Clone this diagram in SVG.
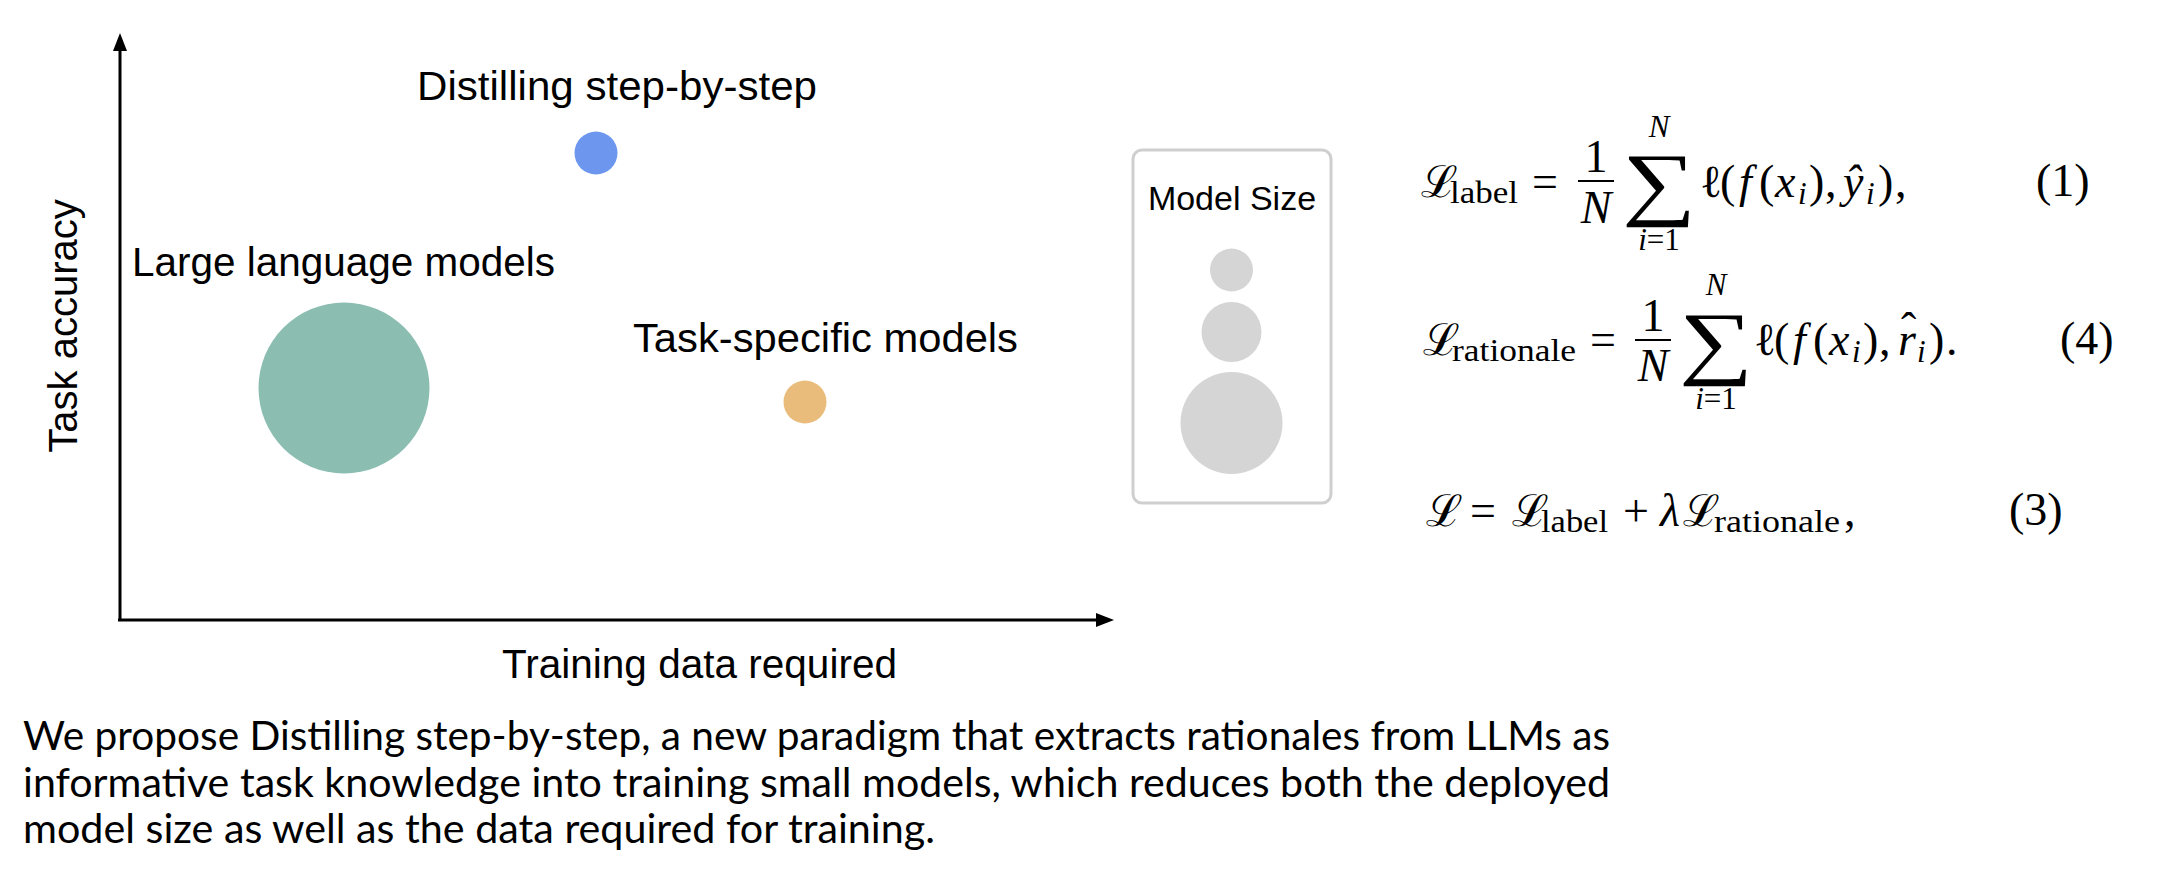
<svg xmlns="http://www.w3.org/2000/svg" width="2162" height="876" viewBox="0 0 2162 876">
<style>
.lbl{font-family:"Liberation Sans",Arial,Helvetica,sans-serif;font-size:40px;fill:#000}
.m{font-family:"Liberation Serif","Times New Roman",serif;font-size:46px;fill:#000}
.mi{font-style:italic}
.sub{font-size:31px}
.cal{font-family:"DejaVu Serif","Liberation Serif",serif;font-size:44px;fill:#000}
.big{font-family:"Liberation Serif","Times New Roman",serif;font-size:80px;fill:#000}
.cap{font-family:Lato,"Open Sans","Liberation Sans",sans-serif;font-size:40px;fill:#000}
.mid{text-anchor:middle}
.axis{stroke:#000;stroke-width:3;fill:none}
</style>
<defs>
<marker id="arr" viewBox="0 0 18 14" markerUnits="userSpaceOnUse" markerWidth="18" markerHeight="14" refX="8" refY="7" orient="auto">
<path d="M0,0 L18,7 L0,14 z" fill="#000"/>
</marker>
</defs>
<rect width="2162" height="876" fill="#fff"/>
<g id="connectors">
<line class="axis" x1="120" y1="621" x2="120" y2="43" marker-end="url(#arr)"/>
<line class="axis" x1="118" y1="620" x2="1104" y2="620" marker-end="url(#arr)"/>
</g>
<g id="axis-labels">
<text class="lbl" transform="translate(77,326) rotate(-90)" text-anchor="middle">Task accuracy</text>
<text class="lbl" x="502" y="678" textLength="395" lengthAdjust="spacingAndGlyphs">Training data required</text>
</g>
<g id="node-distill">
<text class="lbl" x="417" y="100" textLength="400" lengthAdjust="spacingAndGlyphs">Distilling step-by-step</text>
<circle cx="596" cy="153" r="21.5" fill="#6D97EE"/>
</g>
<g id="node-llm">
<text class="lbl" x="132" y="276" textLength="423" lengthAdjust="spacingAndGlyphs">Large language models</text>
<circle cx="344" cy="388" r="85.5" fill="#8BBDB1"/>
</g>
<g id="node-task">
<text class="lbl" x="633" y="352" textLength="385" lengthAdjust="spacingAndGlyphs">Task-specific models</text>
<circle cx="805" cy="402" r="21.5" fill="#E9BC7B"/>
</g>
<g id="node-legend">
<rect x="1133" y="150" width="198" height="353" rx="9" fill="#fff" stroke="#CFCFCF" stroke-width="3"/>
<text class="lbl mid" x="1232" y="210" style="font-size:34px">Model Size</text>
<circle cx="1231.5" cy="270" r="21.5" fill="#D5D5D5"/>
<circle cx="1231.5" cy="332" r="30" fill="#D5D5D5"/>
<circle cx="1231.5" cy="423" r="51" fill="#D5D5D5"/>
</g>
<g id="eq1">
<text class="cal" x="1421" y="197">ℒ</text>
<text class="m sub" x="1450" y="203" textLength="68" lengthAdjust="spacingAndGlyphs">label</text>
<text class="m mid" x="1545" y="197">=</text>
<text class="m mid" x="1596" y="172">1</text>
<line x1="1578" y1="181" x2="1614" y2="181" stroke="#000" stroke-width="1.8"/>
<text class="m mi mid" x="1596" y="223">N</text>
<text class="big mid" transform="translate(1659,210) scale(1.3,1.02)">∑</text>
<text class="m mi sub mid" x="1659" y="137">N</text>
<text class="m sub mid" x="1659" y="250"><tspan class="mi">i</tspan>=1</text>
<text class="m" y="197"><tspan x="1700">ℓ</tspan><tspan x="1720">(</tspan><tspan x="1739" class="mi">f</tspan><tspan x="1759">(</tspan><tspan x="1775" class="mi">x</tspan><tspan x="1798" y="204" class="mi sub">i</tspan><tspan x="1809" y="197">)</tspan><tspan x="1825">,</tspan><tspan x="1843" class="mi">ŷ</tspan><tspan x="1866" y="204" class="mi sub">i</tspan><tspan x="1878" y="197">)</tspan><tspan x="1895">,</tspan></text>
<text class="m" x="2036" y="196">(1)</text>
</g>
<g id="eq4">
<text class="cal" x="1423" y="355">ℒ</text>
<text class="m sub" x="1452" y="361" textLength="124" lengthAdjust="spacingAndGlyphs">rationale</text>
<text class="m mid" x="1603" y="355">=</text>
<text class="m mid" x="1653" y="331">1</text>
<line x1="1635" y1="340" x2="1671" y2="340" stroke="#000" stroke-width="1.8"/>
<text class="m mi mid" x="1653" y="381">N</text>
<text class="big mid" transform="translate(1716,369) scale(1.3,1.02)">∑</text>
<text class="m mi sub mid" x="1716" y="295">N</text>
<text class="m sub mid" x="1716" y="409"><tspan class="mi">i</tspan>=1</text>
<text class="m" y="355"><tspan x="1754">ℓ</tspan><tspan x="1774">(</tspan><tspan x="1793" class="mi">f</tspan><tspan x="1813">(</tspan><tspan x="1829" class="mi">x</tspan><tspan x="1852" y="362" class="mi sub">i</tspan><tspan x="1863" y="355">)</tspan><tspan x="1879">,</tspan><tspan x="1898" class="mi">r</tspan><tspan x="1901" y="345">ˆ</tspan><tspan x="1917" y="362" class="mi sub">i</tspan><tspan x="1929" y="355">)</tspan><tspan x="1946">.</tspan></text>
<text class="m" x="2060" y="354">(4)</text>
</g>
<g id="eq3">
<text class="cal" x="1426" y="526">ℒ</text>
<text class="m mid" x="1483" y="526">=</text>
<text class="cal" x="1512" y="526">ℒ</text>
<text class="m sub" x="1541" y="532" textLength="67" lengthAdjust="spacingAndGlyphs">label</text>
<text class="m mid" x="1636" y="526">+</text>
<text class="m mi" x="1660" y="526">λ</text>
<text class="cal" x="1683" y="526">ℒ</text>
<text class="m sub" x="1714" y="532" textLength="126" lengthAdjust="spacingAndGlyphs">rationale</text>
<text class="m" x="1844" y="526">,</text>
<text class="m" x="2009" y="525">(3)</text>
</g>
<g id="caption">
<text class="cap" x="23" y="750" textLength="1587" lengthAdjust="spacingAndGlyphs">We propose Distilling step-by-step, a new paradigm that extracts rationales from LLMs as</text>
<text class="cap" x="23" y="797" textLength="1587" lengthAdjust="spacingAndGlyphs">informative task knowledge into training small models, which reduces both the deployed</text>
<text class="cap" x="23" y="843" textLength="912" lengthAdjust="spacingAndGlyphs">model size as well as the data required for training.</text>
</g>
</svg>
